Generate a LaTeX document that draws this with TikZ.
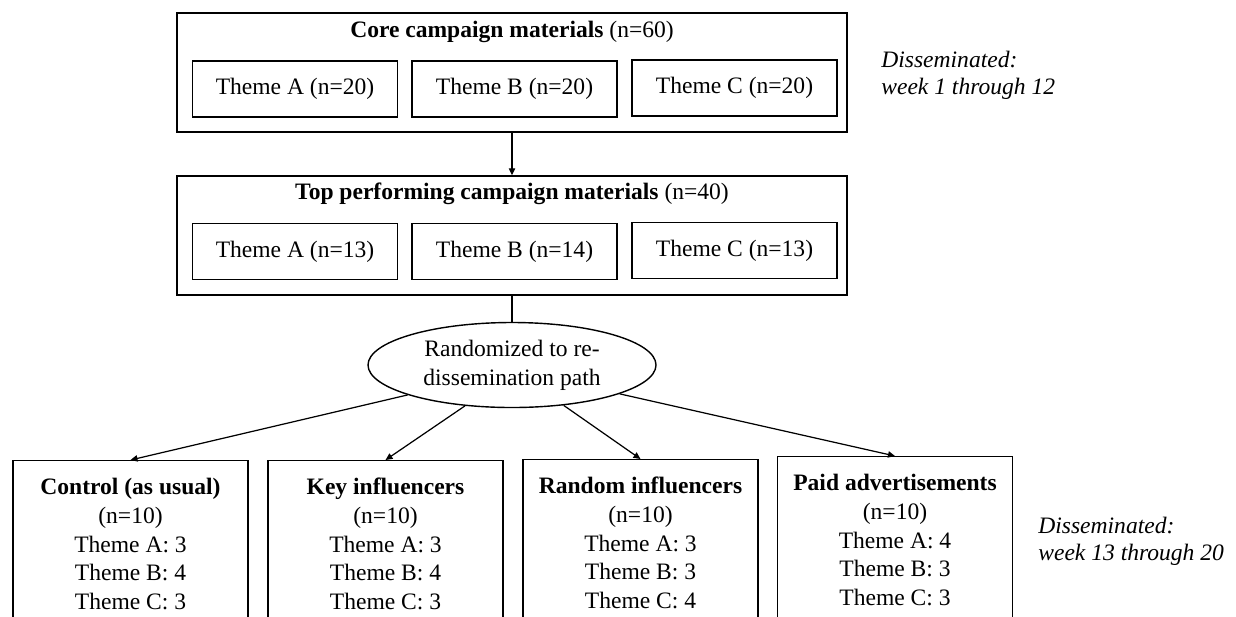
\documentclass[tikz,border=0pt]{standalone}
\usepackage{fontspec}
\setmainfont{Liberation Serif}
\usetikzlibrary{shapes.geometric,arrows.meta,positioning}

\tikzset{
  stagebox/.style={draw, line width=0.8pt, minimum width=13.4cm, minimum height=2.38cm, inner sep=0pt},
  themebox/.style={draw, line width=0.8pt, minimum width=4.1cm, minimum height=1.12cm},
  armbox/.style={draw, line width=0.8pt, minimum width=4.7cm, minimum height=3.8cm, anchor=north},
  armtext/.style={align=center},
  note/.style={anchor=west, align=left, inner sep=0pt, font=\fontsize{13.4}{15.4}\selectfont\itshape},
  flow/.style={line width=0.7pt, -{Triangle[length=4pt,width=3.6pt]}}
}

\begin{document}
\begin{tikzpicture}[font=\fontsize{13.4}{16.4}\selectfont]
\useasboundingbox (0,0) rectangle (24.72,-12.32);
\clip (0,0) rectangle (24.72,-12.32);

% Core materials
\node[stagebox] (core) at (10.24,-1.45) {};
\node (coretitle) at (10.24,-0.64) {\textbf{Core campaign materials} (n=60)};
\node[themebox] (coreA) at (5.9,-1.78) {Theme A (n=20)};
\node[themebox] (coreB) at (10.29,-1.78) {Theme B (n=20)};
\node[themebox] (coreC) at (14.69,-1.76) {Theme C (n=20)};
\node[note] (week1) at (17.62,-1.51) {Disseminated:\\week 1 through 12};

% Top performing materials
\node[stagebox] (top) at (10.24,-4.71) {};
\node (toptitle) at (10.24,-3.88) {\textbf{Top performing campaign materials} (n=40)};
\node[themebox] (topA) at (5.9,-5.03) {Theme A (n=13)};
\node[themebox] (topB) at (10.29,-5.03) {Theme B (n=14)};
\node[themebox] (topC) at (14.69,-5.01) {Theme C (n=13)};
\draw[flow] (core) -- (top);

% Randomization
\node[draw, ellipse, line width=0.8pt, minimum width=5.76cm, minimum height=1.7cm, inner sep=0pt, align=center] (rand) at (10.24,-7.3) {Randomized to re-\\dissemination path};
\draw[line width=0.7pt] (top) -- (rand);

% Re-dissemination paths
\node[armbox] (ctrl) at (2.61,-9.2) {};
\node[armbox] (key) at (7.71,-9.2) {};
\node[armbox] (rnd) at (12.81,-9.18) {};
\node[armbox] (paid) at (17.9,-9.12) {};
\node[armtext] (ctrltext) at ([yshift=-1.68cm]ctrl.north) {\textbf{Control (as usual)}\\(n=10)\\Theme A: 3\\Theme B: 4\\Theme C: 3};
\node[armtext] (keytext) at ([yshift=-1.68cm]key.north) {\textbf{Key influencers}\\(n=10)\\Theme A: 3\\Theme B: 4\\Theme C: 3};
\node[armtext] (rndtext) at ([yshift=-1.68cm]rnd.north) {\textbf{Random influencers}\\(n=10)\\Theme A: 3\\Theme B: 3\\Theme C: 4};
\node[armtext] (paidtext) at ([yshift=-1.68cm]paid.north) {\textbf{Paid advertisements}\\(n=10)\\Theme A: 4\\Theme B: 3\\Theme C: 3};
\draw[flow] (rand.196) -- (ctrl.north);
\draw[flow] (rand.221) -- (key.north);
\draw[flow] (rand.322) -- (rnd.north);
\draw[flow] (rand.345) -- (paid.north);
\node[note] (week13) at (20.76,-10.82) {Disseminated:\\week 13 through 20};
\end{tikzpicture}
\end{document}
